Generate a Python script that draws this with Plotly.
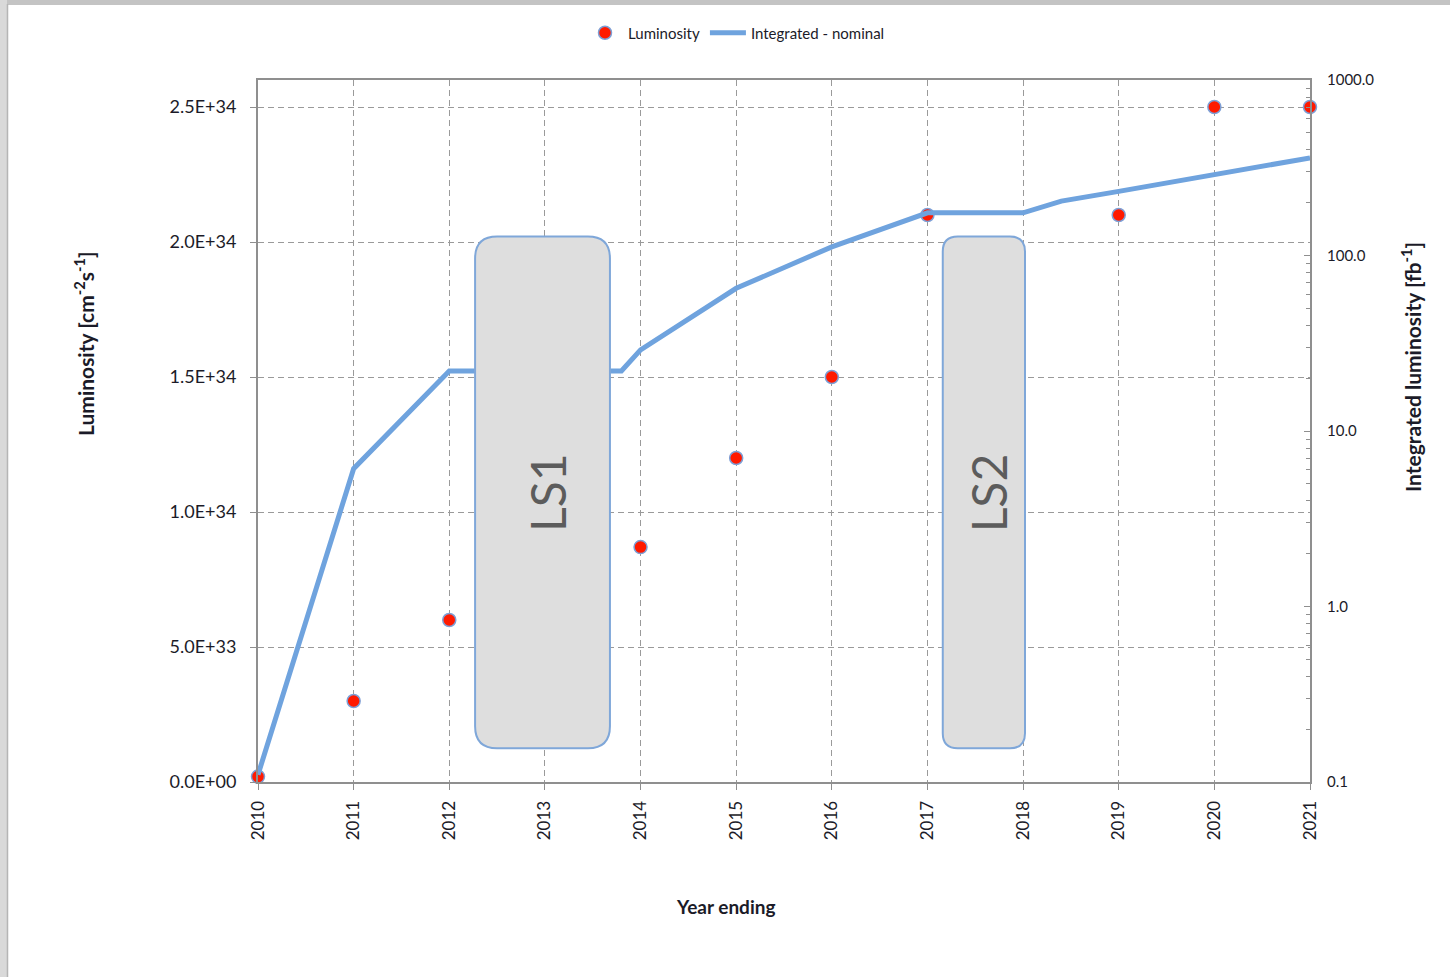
import plotly.graph_objects as go

# Peak luminosity per year (cm^-2 s^-1); no beam during the long shutdowns
years = [2010, 2011, 2012, 2013, 2014, 2015, 2016, 2017, 2018, 2019, 2020, 2021]
peak_lumi = [2e32, 3e33, 6e33, None, 8.7e33, 1.2e34, 1.5e34, 2.1e34, None, 2.1e34, 2.5e34, 2.5e34]

# Integrated luminosity, nominal scenario (fb^-1)
int_years = [2010, 2011, 2012, 2013.8, 2014, 2015, 2016, 2017, 2018, 2018.4, 2019, 2020, 2021]
int_lumi = [0.11, 6.1, 22, 22, 29, 65, 112, 175, 175, 204, 232, 288, 360]

# Long shutdown periods (start year, end year) and their labels
shutdown_names = ["LS1", "LS2"]
shutdown_start = [2012.27, 2017.16]
shutdown_end = [2013.68, 2018.02]

FONT = "Lato"
TEXT = "#1b1b28"
LINE_BLUE = "#6fa3de"
AXIS_GRAY = "#8f8f8f"
GRID_GRAY = "#9a9a9a"

W, H = 1450, 977
ML, MR, MT, MB = 258, 140, 80, 195
PW, PH = W - ML - MR, H - MT - MB
X_RANGE = [2010, 2021]
Y_RANGE = [0, 2.6e34]
px_per_x = PW / (X_RANGE[1] - X_RANGE[0])
px_per_y = PH / (Y_RANGE[1] - Y_RANGE[0])

fig = go.Figure()

fig.add_trace(go.Scatter(
    x=years, y=peak_lumi, name="Luminosity", mode="markers",
    marker=dict(size=13, color="#ff1a00", line=dict(color="#7d9fd6", width=1.5)),
    yaxis="y", cliponaxis=False,
))
fig.add_trace(go.Scatter(
    x=int_years, y=int_lumi, name="Integrated - nominal", mode="lines",
    line=dict(color=LINE_BLUE, width=5),
    yaxis="y2", cliponaxis=False,
))


def rounded_box(x0, x1, y0, y1, r_px):
    rx = r_px / px_per_x
    ry = r_px / px_per_y
    return (
        f"M {x0 + rx},{y1} L {x1 - rx},{y1} Q {x1},{y1} {x1},{y1 - ry} "
        f"L {x1},{y0 + ry} Q {x1},{y0} {x1 - rx},{y0} "
        f"L {x0 + rx},{y0} Q {x0},{y0} {x0},{y0 + ry} "
        f"L {x0},{y1 - ry} Q {x0},{y1} {x0 + rx},{y1} Z"
    )


shapes = []
annotations = []
box_bottom, box_top = 0.125e34, 2.02e34
for name, x0, x1, r in zip(shutdown_names, shutdown_start, shutdown_end, [22, 15]):
    shapes.append(dict(
        type="path", xref="x", yref="y",
        path=rounded_box(x0, x1, box_bottom, box_top, r),
        fillcolor="#dedede", line=dict(color="#7fa7d9", width=2), layer="above",
    ))
    annotations.append(dict(
        x=(x0 + x1) / 2, y=(box_bottom + box_top) / 2, xref="x", yref="y",
        text=name, textangle=-90, showarrow=False, xshift=5,
        font=dict(family=FONT, size=48, color="#5c5c5c"),
    ))


def paper_x(p):
    return (p - ML) / PW


def paper_y(p):
    return (H - MB - p) / PH


# window frame around the sheet
shapes.append(dict(type="rect", xref="paper", yref="paper",
                   x0=paper_x(0), x1=paper_x(W), y0=paper_y(0), y1=paper_y(5),
                   fillcolor="#c4c4c4", line=dict(width=0), layer="below"))
shapes.append(dict(type="rect", xref="paper", yref="paper",
                   x0=paper_x(0), x1=paper_x(7), y0=paper_y(H), y1=paper_y(0),
                   fillcolor="#d9d9d9", line=dict(width=0), layer="below"))
shapes.append(dict(type="line", xref="paper", yref="paper",
                   x0=paper_x(7.5), x1=paper_x(7.5), y0=paper_y(H), y1=paper_y(4),
                   line=dict(color="#b5b5b5", width=1.5), layer="below"))

annotations += [
    dict(x=paper_x(725), y=paper_y(906), xref="paper", yref="paper",
         xanchor="center", yanchor="middle",
         text="<b>Year ending</b>", showarrow=False,
         font=dict(family=FONT, size=19, color=TEXT)),
    dict(x=paper_x(84), y=paper_y(344), xref="paper", yref="paper",
         xanchor="center", yanchor="middle",
         text="<b>Luminosity [cm<sup>-2</sup>s<sup>-1</sup>]</b>", textangle=-90,
         showarrow=False, font=dict(family=FONT, size=21, color=TEXT)),
    dict(x=paper_x(1411), y=paper_y(367), xref="paper", yref="paper",
         xanchor="center", yanchor="middle",
         text="<b>Integrated luminosity [fb<sup>-1</sup>]</b>", textangle=-90,
         showarrow=False, font=dict(family=FONT, size=21, color=TEXT)),
]

left_ticks = [0, 5e33, 1e34, 1.5e34, 2e34, 2.5e34]
left_labels = ["0.0E+00", "5.0E+33", "1.0E+34", "1.5E+34", "2.0E+34", "2.5E+34"]

fig.update_layout(
    width=W, height=H,
    margin=dict(l=ML, r=MR, t=MT, b=MB),
    paper_bgcolor="white", plot_bgcolor="white",
    font=dict(family=FONT, size=16, color=TEXT),
    showlegend=True,
    legend=dict(orientation="h", x=paper_x(736), y=paper_y(33),
                xanchor="center", yanchor="middle",
                font=dict(family=FONT, size=15, color=TEXT),
                bgcolor="rgba(0,0,0,0)", itemwidth=36, tracegroupgap=0),
    xaxis=dict(
        range=X_RANGE, tickvals=years, ticktext=[str(y) for y in years],
        tickangle=-90, ticks="outside", ticklen=6, tickcolor=AXIS_GRAY,
        showline=True, linecolor=AXIS_GRAY, linewidth=2, mirror=True,
        showgrid=True, gridcolor=GRID_GRAY, griddash="6px,4px", gridwidth=1,
        zeroline=False, tickfont=dict(size=17), ticklabelstandoff=4,
    ),
    yaxis=dict(
        range=Y_RANGE, tickvals=left_ticks, ticktext=left_labels,
        ticks="outside", ticklen=6, tickcolor=AXIS_GRAY,
        showline=True, linecolor=AXIS_GRAY, linewidth=2, mirror=True,
        showgrid=True, gridcolor=GRID_GRAY, griddash="6px,4px", gridwidth=1,
        zeroline=False, tickfont=dict(size=18), ticklabelstandoff=10,
    ),
    yaxis2=dict(
        type="log", range=[-1, 3], dtick=1, tickformat=".1f",
        overlaying="y", side="right", anchor="x",
        ticks="inside", ticklen=6, tickcolor=AXIS_GRAY,
        minor=dict(ticks="inside", ticklen=4, dtick="D1", tickcolor=AXIS_GRAY, showgrid=False),
        showline=True, linecolor=AXIS_GRAY, linewidth=2,
        showgrid=False, zeroline=False, tickfont=dict(size=15), ticklabelstandoff=12,
    ),
    shapes=shapes,
    annotations=annotations,
)

fig.write_html("out.html")
